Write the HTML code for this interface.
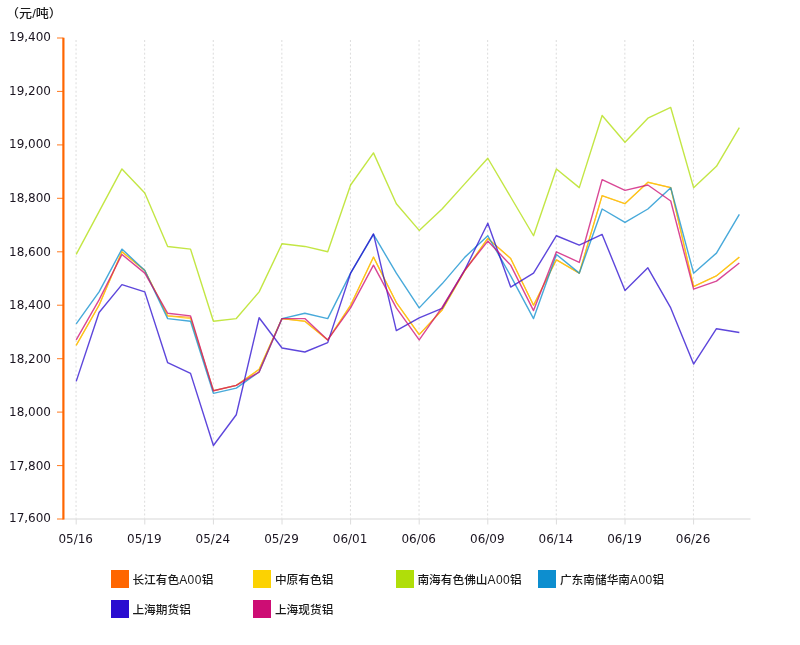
<!DOCTYPE html><html><head><meta charset="utf-8"><title>chart</title><style>
html,body{margin:0;padding:0;background:#fff;}
body{width:800px;height:645px;position:relative;overflow:hidden;font-family:"DejaVu Sans","Liberation Sans",sans-serif;}
.yl{position:absolute;left:0;width:51px;text-align:right;font-size:12px;line-height:14px;color:#1a1420;white-space:nowrap;}
.xl{position:absolute;width:60px;text-align:center;font-size:12px;line-height:14px;color:#1a1420;top:532.4px;white-space:nowrap;}
.unit{position:absolute;left:6.3px;top:7.4px;font-size:12px;line-height:14px;font-weight:500;color:#1a1a1a;font-family:"Liberation Sans","Noto Sans CJK SC",sans-serif;white-space:nowrap;transform-origin:0 50%;transform:scale(1.09,1.0);}
.lg{position:absolute;height:18px;line-height:18px;font-size:11.7px;font-weight:500;color:#1a1a1a;font-family:"Liberation Sans","Noto Sans CJK SC",sans-serif;white-space:nowrap;}
.lg i{position:absolute;left:0;top:0;width:18px;height:18px;display:block;}
.lg span{position:absolute;left:21.9px;top:0.6px;}
.lg b{font-weight:500;letter-spacing:0.4px;font-size:12px;}
</style></head><body>
<svg width="800" height="645" viewBox="0 0 800 645" style="position:absolute;left:0;top:0">
<line x1="76.05" y1="40" x2="76.05" y2="519" stroke="#000" stroke-opacity="0.14" stroke-width="1" stroke-dasharray="2,2.227"/>
<line x1="144.65" y1="40" x2="144.65" y2="519" stroke="#000" stroke-opacity="0.14" stroke-width="1" stroke-dasharray="2,2.227"/>
<line x1="213.25" y1="40" x2="213.25" y2="519" stroke="#000" stroke-opacity="0.14" stroke-width="1" stroke-dasharray="2,2.227"/>
<line x1="281.85" y1="40" x2="281.85" y2="519" stroke="#000" stroke-opacity="0.14" stroke-width="1" stroke-dasharray="2,2.227"/>
<line x1="350.45" y1="40" x2="350.45" y2="519" stroke="#000" stroke-opacity="0.14" stroke-width="1" stroke-dasharray="2,2.227"/>
<line x1="419.05" y1="40" x2="419.05" y2="519" stroke="#000" stroke-opacity="0.14" stroke-width="1" stroke-dasharray="2,2.227"/>
<line x1="487.65" y1="40" x2="487.65" y2="519" stroke="#000" stroke-opacity="0.14" stroke-width="1" stroke-dasharray="2,2.227"/>
<line x1="556.25" y1="40" x2="556.25" y2="519" stroke="#000" stroke-opacity="0.14" stroke-width="1" stroke-dasharray="2,2.227"/>
<line x1="624.85" y1="40" x2="624.85" y2="519" stroke="#000" stroke-opacity="0.14" stroke-width="1" stroke-dasharray="2,2.227"/>
<line x1="693.45" y1="40" x2="693.45" y2="519" stroke="#000" stroke-opacity="0.14" stroke-width="1" stroke-dasharray="2,2.227"/>
<line x1="63" y1="519" x2="750.5" y2="519" stroke="#e4e4e4" stroke-width="1.4"/>
<line x1="76.20" y1="519" x2="76.20" y2="524.5" stroke="#dcdcdc" stroke-width="1"/>
<line x1="144.80" y1="519" x2="144.80" y2="524.5" stroke="#dcdcdc" stroke-width="1"/>
<line x1="213.40" y1="519" x2="213.40" y2="524.5" stroke="#dcdcdc" stroke-width="1"/>
<line x1="282.00" y1="519" x2="282.00" y2="524.5" stroke="#dcdcdc" stroke-width="1"/>
<line x1="350.60" y1="519" x2="350.60" y2="524.5" stroke="#dcdcdc" stroke-width="1"/>
<line x1="419.20" y1="519" x2="419.20" y2="524.5" stroke="#dcdcdc" stroke-width="1"/>
<line x1="487.80" y1="519" x2="487.80" y2="524.5" stroke="#dcdcdc" stroke-width="1"/>
<line x1="556.40" y1="519" x2="556.40" y2="524.5" stroke="#dcdcdc" stroke-width="1"/>
<line x1="625.00" y1="519" x2="625.00" y2="524.5" stroke="#dcdcdc" stroke-width="1"/>
<line x1="693.60" y1="519" x2="693.60" y2="524.5" stroke="#dcdcdc" stroke-width="1"/>
<line x1="63.4" y1="37.8" x2="63.4" y2="519.4" stroke="#FF6600" stroke-width="2.2"/>
<line x1="57" y1="38.00" x2="63.4" y2="38.00" stroke="#FF6600" stroke-opacity="0.8" stroke-width="1.1"/>
<line x1="57" y1="91.44" x2="63.4" y2="91.44" stroke="#FF6600" stroke-opacity="0.8" stroke-width="1.1"/>
<line x1="57" y1="144.89" x2="63.4" y2="144.89" stroke="#FF6600" stroke-opacity="0.8" stroke-width="1.1"/>
<line x1="57" y1="198.33" x2="63.4" y2="198.33" stroke="#FF6600" stroke-opacity="0.8" stroke-width="1.1"/>
<line x1="57" y1="251.78" x2="63.4" y2="251.78" stroke="#FF6600" stroke-opacity="0.8" stroke-width="1.1"/>
<line x1="57" y1="305.22" x2="63.4" y2="305.22" stroke="#FF6600" stroke-opacity="0.8" stroke-width="1.1"/>
<line x1="57" y1="358.67" x2="63.4" y2="358.67" stroke="#FF6600" stroke-opacity="0.8" stroke-width="1.1"/>
<line x1="57" y1="412.11" x2="63.4" y2="412.11" stroke="#FF6600" stroke-opacity="0.8" stroke-width="1.1"/>
<line x1="57" y1="465.56" x2="63.4" y2="465.56" stroke="#FF6600" stroke-opacity="0.8" stroke-width="1.1"/>
<line x1="57" y1="519.00" x2="63.4" y2="519.00" stroke="#FF6600" stroke-opacity="0.8" stroke-width="1.1"/>
<path d="M76.20,345.31 L99.07,305.22 L121.93,251.78 L144.80,270.48 L167.67,315.91 L190.53,317.25 L213.40,390.73 L236.27,385.39 L259.13,369.36 L282.00,318.58 L304.87,321.26 L327.73,339.96 L350.60,305.22 L373.47,257.12 L396.33,302.55 L419.20,334.62 L442.07,310.03 L464.93,270.48 L487.80,238.42 L510.67,258.46 L533.53,305.22 L556.40,259.79 L579.27,273.16 L602.13,195.66 L625.00,203.68 L647.87,182.30 L670.73,187.64 L693.60,286.52 L716.47,275.83 L739.33,257.12" fill="none" stroke="#FF6600" stroke-width="1.1" stroke-opacity="0.7" stroke-linejoin="round"/>
<path d="M76.20,345.31 L99.07,305.22 L121.93,251.78 L144.80,270.48 L167.67,315.91 L190.53,318.58 L213.40,390.73 L236.27,385.39 L259.13,369.36 L282.00,318.58 L304.87,321.26 L327.73,339.96 L350.60,305.22 L373.47,257.12 L396.33,302.55 L419.20,334.62 L442.07,310.03 L464.93,270.48 L487.80,238.42 L510.67,258.46 L533.53,305.22 L556.40,259.79 L579.27,273.16 L602.13,195.66 L625.00,203.68 L647.87,182.30 L670.73,187.64 L693.60,286.52 L716.47,275.83 L739.33,257.12" fill="none" stroke="#FCD202" stroke-width="1.4" stroke-opacity="0.76" stroke-linejoin="round"/>
<path d="M76.20,254.45 L99.07,211.69 L121.93,168.94 L144.80,192.99 L167.67,246.43 L190.53,249.11 L213.40,321.26 L236.27,318.58 L259.13,291.86 L282.00,243.76 L304.87,246.43 L327.73,251.78 L350.60,184.97 L373.47,152.91 L396.33,203.68 L419.20,230.40 L442.07,209.02 L464.93,183.64 L487.80,158.25 L510.67,197.00 L533.53,235.74 L556.40,168.94 L579.27,187.64 L602.13,115.49 L625.00,142.22 L647.87,118.17 L670.73,107.48 L693.60,187.64 L716.47,166.27 L739.33,127.52" fill="none" stroke="#B0DE09" stroke-width="1.4" stroke-opacity="0.76" stroke-linejoin="round"/>
<path d="M76.20,323.93 L99.07,291.86 L121.93,249.11 L144.80,270.48 L167.67,318.58 L190.53,321.26 L213.40,393.41 L236.27,388.06 L259.13,372.03 L282.00,318.58 L304.87,313.24 L327.73,318.58 L350.60,273.16 L373.47,234.41 L396.33,273.16 L419.20,307.89 L442.07,283.84 L464.93,257.12 L487.80,235.74 L510.67,275.83 L533.53,318.58 L556.40,254.45 L579.27,273.16 L602.13,209.02 L625.00,222.38 L647.87,209.02 L670.73,187.64 L693.60,273.16 L716.47,253.11 L739.33,214.37" fill="none" stroke="#0D8ECF" stroke-width="1.4" stroke-opacity="0.76" stroke-linejoin="round"/>
<path d="M76.20,381.38 L99.07,312.44 L121.93,284.65 L144.80,291.86 L167.67,362.68 L190.53,373.36 L213.40,445.51 L236.27,414.78 L259.13,317.78 L282.00,347.98 L304.87,351.99 L327.73,342.63 L350.60,273.16 L373.47,233.87 L396.33,330.61 L419.20,317.78 L442.07,308.43 L464.93,269.68 L487.80,223.19 L510.67,287.05 L533.53,273.16 L556.40,235.74 L579.27,245.10 L602.13,234.41 L625.00,290.53 L647.87,267.81 L670.73,307.89 L693.60,364.01 L716.47,328.74 L739.33,332.48" fill="none" stroke="#2A0CD0" stroke-width="1.4" stroke-opacity="0.76" stroke-linejoin="round"/>
<path d="M76.20,339.96 L99.07,299.88 L121.93,254.45 L144.80,273.16 L167.67,313.24 L190.53,315.91 L213.40,390.73 L236.27,385.39 L259.13,372.03 L282.00,318.58 L304.87,318.58 L327.73,339.96 L350.60,307.89 L373.47,265.14 L396.33,307.89 L419.20,339.96 L442.07,307.36 L464.93,269.95 L487.80,241.09 L510.67,265.14 L533.53,310.57 L556.40,251.78 L579.27,262.47 L602.13,179.63 L625.00,190.32 L647.87,184.97 L670.73,201.01 L693.60,289.19 L716.47,281.17 L739.33,263.00" fill="none" stroke="#CD0D74" stroke-width="1.4" stroke-opacity="0.76" stroke-linejoin="round"/>
</svg>
<div class="yl" style="top:30px">19,400</div>
<div class="yl" style="top:84px">19,200</div>
<div class="yl" style="top:137px">19,000</div>
<div class="yl" style="top:191px">18,800</div>
<div class="yl" style="top:245px">18,600</div>
<div class="yl" style="top:298px">18,400</div>
<div class="yl" style="top:352px">18,200</div>
<div class="yl" style="top:405px">18,000</div>
<div class="yl" style="top:459px">17,800</div>
<div class="yl" style="top:511px">17,600</div>
<div class="xl" style="left:45.7px">05/16</div>
<div class="xl" style="left:114.3px">05/19</div>
<div class="xl" style="left:182.9px">05/24</div>
<div class="xl" style="left:251.5px">05/29</div>
<div class="xl" style="left:320.1px">06/01</div>
<div class="xl" style="left:388.7px">06/06</div>
<div class="xl" style="left:457.3px">06/09</div>
<div class="xl" style="left:525.9px">06/14</div>
<div class="xl" style="left:594.5px">06/19</div>
<div class="xl" style="left:663.1px">06/26</div>
<div class="unit">（元/吨）</div>
<div class="lg" style="left:110.5px;top:570px"><i style="background:#FF6600"></i><span>长江有色<b>A00</b>铝</span></div>
<div class="lg" style="left:253.0px;top:570px"><i style="background:#FCD202"></i><span>中原有色铝</span></div>
<div class="lg" style="left:395.5px;top:570px"><i style="background:#B0DE09"></i><span>南海有色佛山<b>A00</b>铝</span></div>
<div class="lg" style="left:538.0px;top:570px"><i style="background:#0D8ECF"></i><span>广东南储华南<b>A00</b>铝</span></div>
<div class="lg" style="left:110.5px;top:600px"><i style="background:#2A0CD0"></i><span>上海期货铝</span></div>
<div class="lg" style="left:253.0px;top:600px"><i style="background:#CD0D74"></i><span>上海现货铝</span></div>
</body></html>
